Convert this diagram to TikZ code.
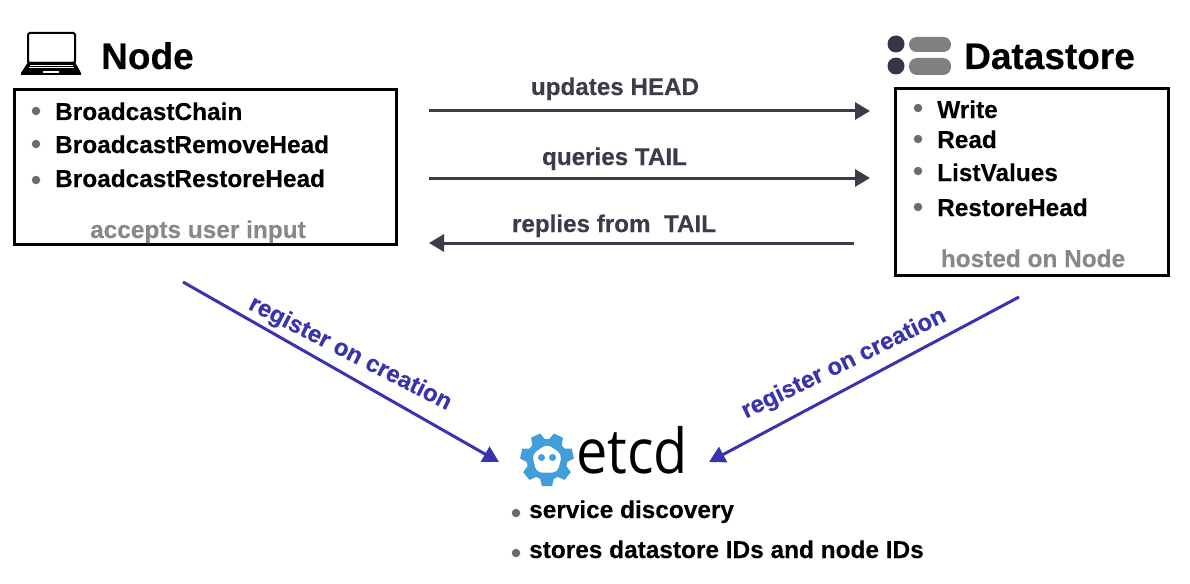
\documentclass[tikz,border=0pt]{standalone}
\usepackage{fontspec}
\setmainfont[BoldFeatures={FakeBold=0.25}]{Liberation Sans}
\newfontfamily\logofont{Open Sans}
\usetikzlibrary{arrows.meta}
\definecolor{darkarrow}{HTML}{3B3B4A}
\definecolor{bluearrow}{HTML}{3A33B0}
\definecolor{greytext}{HTML}{88888C}
\definecolor{bulletc}{HTML}{6B6B75}
\definecolor{etcdblue}{HTML}{419EDA}
\definecolor{pill}{HTML}{808080}
\newcommand{\fs}[1]{\fontsize{#1}{#1}\selectfont}
\tikzset{
  x=1pt,y=-1pt,
  boxnode/.style={draw=black,line width=3pt,inner sep=0pt,outer sep=0pt,minimum width=#1},
  head/.style={anchor=base west,inner sep=0pt,font=\fs{37}\bfseries,text=black},
  item/.style={anchor=base west,inner sep=0pt,font=\fs{24.4}\bfseries,text=black},
  note/.style={anchor=base,inner sep=0pt,font=\fs{24.4}\bfseries,text=greytext},
  msg/.style={anchor=base,inner sep=0pt,font=\fs{24.2}\bfseries,text=darkarrow},
  reg/.style={inner sep=0pt,font=\fs{24}\bfseries,text=bluearrow},
  darrow/.style={draw=darkarrow,line width=3pt,-{Triangle[length=15pt,width=17pt]}},
  barrow/.style={draw=bluearrow,line width=3pt,-{Triangle[length=16pt,width=17pt]}},
  bullet/.style={circle,fill=bulletc,inner sep=0pt,minimum size=8.5pt},
}
\begin{document}
\begin{tikzpicture}
\useasboundingbox (0,0) rectangle (1190,583);
\fill[white] (0,0) rectangle (1190,583);

% boxes
\node[boxnode=382pt,minimum height=155pt] (nodebox) at (205.5,167) {};
\node[boxnode=273pt,minimum height=187pt] (storebox) at (1032,182) {};

% laptop icon
\draw[black,line width=2pt,rounded corners=1.5pt] (28,33) rectangle (75,63);
\fill[black] (28,62) -- (75,62) -- (81,73) -- (81,75) -- (21,75) -- (21,73) -- cycle;
\draw[white,line width=0.7pt] (30,65) -- (73,65) (29,67.5) -- (74,67.5);
\fill[white] (43,71) rectangle (59,73);
\node[head] (nodetitle) at (101,69) {Node};

% datastore icon
\fill[darkarrow!90!black] (896,44) circle (8.5);
\fill[darkarrow!90!black] (896,66) circle (8.5);
\fill[pill,rounded corners=7.5pt] (909,37) rectangle (951,52);
\fill[pill,rounded corners=8pt] (909,58) rectangle (951,75);
\node[head] (storetitle) at (964,69) {Datastore};

% node items
\node[bullet] (nb1) at (36,111) {};
\node[bullet] (nb2) at (36,144) {};
\node[bullet] (nb3) at (36,180) {};
\node[item] (n1) at (55,120) {BroadcastChain};
\node[item] (n2) at (55,153) {BroadcastRemoveHead};
\node[item] (n3) at (55,187) {BroadcastRestoreHead};
\node[note] (n4) at (198,238) {accepts user input};

% datastore items
\node[bullet] (sb1) at (918,108) {};
\node[bullet] (sb2) at (918,139) {};
\node[bullet] (sb3) at (918,171) {};
\node[bullet] (sb4) at (918,207) {};
\node[item] (s1) at (937,118) {Write};
\node[item] (s2) at (937,148) {Read};
\node[item] (s3) at (937,181) {ListValues};
\node[item] (s4) at (937,216) {RestoreHead};
\node[note] (s5) at (1033,267) {hosted on Node};

% horizontal connectors
\coordinate (a1) at (429,111); \coordinate (a2) at (870,111);
\coordinate (b1) at (429,178); \coordinate (b2) at (870,178);
\coordinate (c1) at (854,243); \coordinate (c2) at (429,243);
\draw[darrow] (a1) -- (a2);
\draw[darrow] (b1) -- (b2);
\draw[darrow] (c1) -- (c2);
\node[msg] (m1) at (615,95) {updates HEAD};
\node[msg] (m2) at (614.5,165) {queries TAIL};
\node[msg] (m3) at (614,232) {replies from\ \ TAIL};

% etcd logo
\begin{scope}[shift={(547,459.5)}]
  \foreach \a in {0,51.43,102.86,154.29,205.71,257.14,308.57}
    \fill[etcdblue,rotate=\a] (-5,26.5) -- (5,26.5) -- (7.5,17) -- (-7.5,17) -- cycle;
  \fill[etcdblue] (0,0) circle (20.5);
  \fill[white,rounded corners=5pt] (0,-15.5) -- (15,-5) -- (10.5,13) -- (-10.5,13) -- (-15,-5) -- cycle;
  \fill[etcdblue] (-5.5,-2) circle (3.5);
  \fill[etcdblue] (5.5,-2) circle (3.5);
\end{scope}
\node[anchor=base west,inner sep=0pt,font=\logofont\fs{62},text=black] (etcd) at (576,473) {\scalebox{0.9}[1]{etcd}};

% etcd items
\node[bullet] (eb1) at (516,513) {};
\node[bullet] (eb2) at (516,553) {};
\node[item] (e1) at (529,518) {service discovery};
\node[item] (e2) at (529,558) {stores datastore IDs and node IDs};

% diagonal connectors
\coordinate (d1) at (183,282); \coordinate (d2) at (499,462);
\coordinate (f1) at (1019,297); \coordinate (f2) at (709,462);
\draw[barrow] (d1) -- (d2);
\draw[barrow] (f1) -- (f2);
\node[reg,rotate=-27] (r1) at (350,354) {register on creation};
\node[reg,rotate=26] (r2) at (844,364) {register on creation};
\end{tikzpicture}
\end{document}
